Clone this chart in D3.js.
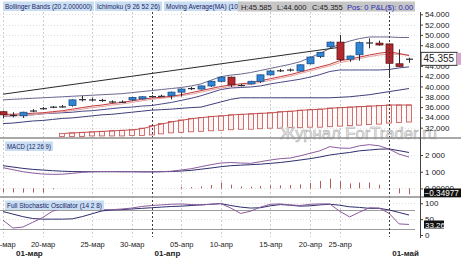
<!DOCTYPE html>
<html>
<head>
<meta charset="utf-8" />
<script src="https://cdn.jsdelivr.net/npm/d3@7/dist/d3.min.js"></script>
<style>
body { margin: 0; background: #ffffff; }
#chart { display: block; font-family: "Liberation Sans", Arial, sans-serif; }
.grid { stroke: #cdcdcd; stroke-dasharray: 2,2; }
.hgrid { stroke: #e0e0e0; stroke-dasharray: 1,2; }
.month { stroke: #3a3a3a; stroke-dasharray: 2,2; }
.sep { stroke: #8c8c8c; stroke-width: 1.5; }
.axis text { font-size: 8px; fill: #222; }
.axis line { stroke: #444; }
.axis .domain { display: none; }
.legend rect { fill: #c9def3; }
.legend text { fill: #1b2463; }
.ln { fill: none; stroke-width: 1; }
.xlab text { font-size: 7.5px; fill: #222; }
.mlab { font-size: 8px; font-weight: bold; fill: #222; }
</style>
</head>
<body>
<svg id="chart" width="461" height="258"></svg>
<script>
// candles, one per trading day
var openP  = [35.1,34.5,34.3,35.3,35.75,35.95,36.1,36.3,37.45,37.5,37.4,37.1,37.0,37.4,37.6,38.1,38.2,38.2,38.9,39.65,39.5,40.1,41.0,41.8,40.3,40.5,41.0,42.25,43.15,43.3,43.0,44.4,45.8,47.7,48.6,45.3,46.15,48.5,48.4,48.25,44.4,45.4];
var highP  = [35.3,35.0,35.1,35.6,36.0,36.2,36.4,37.5,38.2,37.8,37.6,37.3,37.3,38.0,38.1,38.3,38.4,39.0,39.6,39.9,40.2,41.1,41.9,41.9,40.5,41.1,42.3,43.2,43.4,43.5,44.3,45.8,46.7,48.7,50.0,46.0,48.7,49.35,48.9,48.3,47.2,45.585];
var lowP   = [33.8,34.0,33.9,35.0,35.5,35.8,35.9,36.1,37.1,37.1,37.0,36.8,36.8,37.2,37.5,37.9,38.0,37.5,38.05,39.3,39.4,39.9,40.8,39.9,40.0,40.4,40.7,42.1,42.8,42.9,42.9,44.3,45.5,47.5,44.8,44.8,45.0,47.4,47.9,41.8,43.8,44.6];
var closeP = [34.5,34.45,35.0,35.35,35.8,36.1,36.15,37.4,37.55,37.45,37.2,37.1,37.05,37.85,38.0,38.15,38.2,38.9,39.5,39.7,40.1,41.0,41.8,40.3,40.25,41.0,42.25,43.0,43.1,43.1,44.2,45.7,46.6,48.6,45.2,45.9,48.5,48.55,48.05,44.5,43.9,45.355];

// indicator lines on the price panel
var bbUpper = [37.4,37.5,37.6,37.7,37.8,37.9,38.0,38.1,38.2,38.3,38.4,38.5,38.6,38.8,39.0,39.2,39.4,39.6,39.8,40.1,40.5,41.2,41.9,42.2,42.4,42.7,43.1,43.5,43.9,44.3,44.8,45.6,46.4,47.4,48.2,48.8,49.3,49.6,49.6,49.6,49.5,49.5];
var bbLower = [32.8,32.9,33.1,33.3,33.4,33.6,33.8,33.9,34.1,34.3,34.5,34.6,34.8,35.0,35.2,35.4,35.5,35.6,35.75,35.9,36.0,36.5,37.0,37.5,37.8,37.8,37.8,37.8,37.8,37.8,37.8,37.8,37.8,37.8,37.9,38.0,38.2,38.4,38.7,39.0,39.3,39.6];
var ma10    = [34.6,34.6,34.7,34.8,34.9,35.1,35.3,35.6,35.9,36.2,36.4,36.7,36.9,37.2,37.5,37.75,37.9,38.1,38.4,38.8,39.2,39.6,40.0,40.3,40.5,40.7,41.1,41.5,41.9,42.3,42.8,43.3,43.8,44.3,45.0,45.3,45.7,46.1,46.45,46.7,46.4,46.0];
var tenkan  = [34.3,34.3,34.4,34.5,34.7,34.9,35.1,35.3,35.6,35.9,36.1,36.4,36.6,36.9,37.2,37.5,37.7,37.9,38.2,38.5,38.9,39.3,39.7,40.0,40.2,40.4,40.8,41.2,41.6,42.0,42.5,43.0,43.5,44.0,44.6,45.0,45.4,45.8,46.1,46.3,46.2,46.1];
var kijun   = [34.2,34.3,34.4,34.5,34.7,34.8,34.9,35.0,35.2,35.3,35.5,35.7,35.9,36.0,36.2,36.3,36.6,36.9,37.3,37.7,38.2,38.8,39.4,39.7,39.8,39.9,40.1,40.5,40.8,41.1,41.4,41.8,42.3,42.9,43.2,43.2,43.2,43.2,43.2,43.3,43.6,43.8];
var cloudTop    = [null,null,null,null,null,null,30.9,31.0,31.1,31.2,31.3,31.4,31.5,31.6,31.9,32.4,32.8,33.2,33.5,33.8,34.0,34.2,34.3,34.5,34.6,34.7,34.8,34.9,35.1,35.2,35.4,35.5,35.6,35.8,35.9,36.0,36.1,36.2,36.3,36.4,36.4,36.4];
var cloudBottom = [null,null,null,null,null,null,30.3,30.3,30.3,30.4,30.4,30.4,30.4,30.5,30.5,30.6,30.8,31.0,31.1,31.2,31.3,31.4,31.5,31.6,31.7,31.7,31.8,31.9,31.9,32.0,32.0,32.1,32.1,32.2,32.3,32.4,32.5,32.6,32.7,32.9,33.0,33.1];
var trendIdx = [0, 34];
var trendVal = [38.5, 47.6];

// MACD (12 26 9)
var macdLine   = [1.24,1.12,1.0,0.92,0.86,0.84,0.85,0.9,0.96,1.0,1.01,1.01,1.0,1.0,1.0,1.0,1.0,1.03,1.1,1.18,1.3,1.42,1.52,1.55,1.52,1.5,1.6,1.7,1.78,1.82,1.95,2.1,2.25,2.5,2.42,2.4,2.55,2.62,2.55,2.35,2.05,1.88];
var signalLine = [1.36,1.28,1.2,1.14,1.1,1.06,1.03,1.01,1.0,1.0,1.0,1.0,1.0,1.0,0.99,0.99,1.0,1.01,1.04,1.08,1.15,1.22,1.3,1.36,1.39,1.42,1.45,1.5,1.55,1.62,1.7,1.78,1.88,2.0,2.08,2.15,2.25,2.3,2.35,2.36,2.26,2.15];
var macdHist   = [-0.22,-0.24,-0.25,-0.25,-0.24,-0.06,0,0,0,0,0,0,0,0,0,0,0,0,0.1,0.08,0.12,0.2,0.35,0.22,0.12,0.1,0.14,0.17,0.18,0.2,0.24,0.33,0.45,0.58,0.42,0.3,0.35,0.35,0.22,0,-0.3,-0.34977];

// Full Stochastic (14 2 8)
var stochK = [47,22,25,40,55,75,84,86,86,84,80,80,82,85,90,93,95,97,98,96,95,97,99,85,68,75,88,97,98,95,93,97,98,98,75,57,72,86,85,68,35,33.26];
var stochD = [74,66,58,52,50,50,50,51,58,67,76,79,80,82,84,86,88,90,91,93,95,97,99,93,88,85,86,92,96,94,91,92,95,97,94,89,87,84,84,79,71,63];

// axes
var priceTicks = [32,34,36,38,40,42,44,46,48,50,52,54];
var macdTicks = [0, 1, 2];
var macdTickLabels = ["0.00000", "1 000", "2 000"];
var stochTicks = [0, 50, 100];
var stochLevels = [20, 80];
var dateIdx = [0, 4, 9, 13, 18, 22, 27, 31, 34];
var dateLabels = ["15-мар","20-мар","25-мар","30-мар","05-апр","10-апр","15-апр","20-апр","25-апр"];
var monthIdx = [15, 39];
var monthLabels = ["01-апр", "01-май"];
var legendMain = ["Bollinger Bands (20 2.000000)", "Ichimoku (9 26 52 26)", "Moving Average(MA) (10)"];
var quoteInfo = ["H:45.585", "L:44.600", "C:45.355"];

var w = 461, h = 258, plotRight = 415, axisX = 420;

var x = d3.scaleLinear().domain([0, 41]).range([3, 409]);
var yMain = d3.scaleLinear().domain([32, 54]).range([127.7, 14.3]);
var yMacd = d3.scaleLinear().domain([0, 2]).range([188.4, 155]);
var yStoch = d3.scaleLinear().domain([0, 100]).range([235, 203.3]);
var px = function(i) { return Math.round(x(i)) + 0.5; };

var svg = d3.select("#chart");
svg.append("rect").attr("width", w).attr("height", h).attr("fill", "#fff");

var defs = svg.append("defs");
function addClip(id, y0, y1) {
  defs.append("clipPath").attr("id", id).append("rect")
    .attr("x", 0).attr("y", y0).attr("width", plotRight).attr("height", y1 - y0);
}
addClip("clipMain", 12, 137.3);
addClip("clipMacd", 138.7, 196.3);
addClip("clipStoch", 197.7, 238);

// grid
var grid = svg.append("g");
grid.selectAll("line.grid").data(dateIdx).enter().append("line")
  .attr("class", "grid")
  .attr("x1", px).attr("x2", px).attr("y1", 12).attr("y2", 237);

function hgrid(ticks, y) {
  grid.selectAll(null).data(ticks).enter().append("line")
    .attr("class", "hgrid")
    .attr("x1", 0).attr("x2", plotRight)
    .attr("y1", function(d) { return Math.round(y(d)) + 0.5; })
    .attr("y2", function(d) { return Math.round(y(d)) + 0.5; });
}
hgrid(priceTicks, yMain);
hgrid(macdTicks, yMacd);
hgrid([50, 100], yStoch);

grid.selectAll("line.lvl").data(stochLevels).enter().append("line")
  .attr("class", "lvl")
  .attr("x1", 0).attr("x2", plotRight)
  .attr("y1", function(d) { return Math.round(yStoch(d)) + 0.5; })
  .attr("y2", function(d) { return Math.round(yStoch(d)) + 0.5; })
  .attr("stroke", "#9c9c9c");

// price panel
var main = svg.append("g").attr("clip-path", "url(#clipMain)");

var cloudIdx = d3.range(cloudTop.length).filter(function(i) { return cloudTop[i] != null; });
main.selectAll("rect.cloud").data(cloudIdx).enter().append("rect")
  .attr("x", function(i) { return Math.round(x(i)) - 2.5; })
  .attr("y", function(i) { return yMain(cloudTop[i]); })
  .attr("width", 5)
  .attr("height", function(i) { return yMain(cloudBottom[i]) - yMain(cloudTop[i]); })
  .attr("fill", "#fcf2f2").attr("stroke", "#c45050").attr("stroke-width", 0.8);

function priceLine(vals, color, width) {
  main.append("path").datum(vals).attr("class", "ln")
    .attr("stroke", color).attr("stroke-width", width || 1)
    .attr("d", d3.line().defined(function(d) { return d != null; })
      .x(function(d, i) { return x(i); }).y(function(d) { return yMain(d); }));
}
main.append("path").datum(cloudTop).attr("class", "ln").attr("stroke", "#c45050")
  .attr("d", d3.line().defined(function(d) { return d != null; })
    .x(function(d, i) { return x(i) + 2.5; }).y(function(d) { return yMain(d); }));

priceLine(bbLower, "#3e3e78");
priceLine(kijun, "#4a4a88");
priceLine(tenkan, "#e4a0a0", 1.2);
priceLine(ma10, "#c43a3a");
priceLine(bbUpper, "#6a6a90");

main.append("path").datum(d3.zip(trendIdx, trendVal)).attr("class", "ln")
  .attr("stroke", "#2a2a2a")
  .attr("d", d3.line().x(function(d) { return x(d[0]); }).y(function(d) { return yMain(d[1]); }));

var candle = main.selectAll("g.candle").data(d3.range(openP.length)).enter().append("g");
candle.append("line")
  .attr("x1", px).attr("x2", px)
  .attr("y1", function(i) { return yMain(highP[i]); })
  .attr("y2", function(i) { return yMain(lowP[i]); })
  .attr("stroke", "#2b2b2b");
candle.append("rect")
  .attr("x", function(i) { return Math.round(x(i)) - 3; })
  .attr("y", function(i) { return yMain(Math.max(openP[i], closeP[i])); })
  .attr("width", 7)
  .attr("height", function(i) { return Math.max(1.2, Math.abs(yMain(openP[i]) - yMain(closeP[i]))); })
  .attr("fill", function(i) {
    if (Math.abs(yMain(openP[i]) - yMain(closeP[i])) < 1.5) return "#2e2e3a";
    return closeP[i] > openP[i] ? "#2f86d6" : "#b2282e";
  })
  .attr("stroke", function(i) {
    if (Math.abs(yMain(openP[i]) - yMain(closeP[i])) < 1.5) return "none";
    return closeP[i] > openP[i] ? "#1c4c84" : "#5c1417";
  })
  .attr("stroke-width", 0.8);

// MACD panel
var macdG = svg.append("g").attr("clip-path", "url(#clipMacd)");
macdG.selectAll("line.hist").data(d3.range(macdHist.length).filter(function(i) { return macdHist[i] != 0; }))
  .enter().append("line")
  .attr("x1", px).attr("x2", px)
  .attr("y1", yMacd(0))
  .attr("y2", function(i) { return yMacd(macdHist[i]); })
  .attr("stroke", "#b05a5a");
function subLine(g, vals, y, color) {
  g.append("path").datum(vals).attr("class", "ln").attr("stroke", color)
    .attr("d", d3.line().x(function(d, i) { return x(i); }).y(function(d) { return y(d); }));
}
subLine(macdG, signalLine, yMacd, "#2e2e6e");
subLine(macdG, macdLine, yMacd, "#8c5c9c");

// stochastic panel
var stochG = svg.append("g").attr("clip-path", "url(#clipStoch)");
subLine(stochG, stochD, yStoch, "#2e2e6e");
subLine(stochG, stochK, yStoch, "#8c5c9c");

// month separators
svg.selectAll("line.month").data(monthIdx).enter().append("line")
  .attr("class", "month")
  .attr("x1", px).attr("x2", px).attr("y1", 12).attr("y2", 237);

// watermark
svg.append("text").attr("x", 280).attr("y", 139)
  .attr("font-size", "17px").attr("textLength", 157).attr("lengthAdjust", "spacingAndGlyphs")
  .attr("fill", "#eeeeee").attr("stroke", "#adadad").attr("stroke-width", 0.6)
  .text("Журнал ForTrader.ru");

// panel separators
svg.selectAll("line.sep").data([138, 197]).enter().append("line")
  .attr("class", "sep").attr("x1", 0).attr("x2", w).attr("y1", function(d) { return d; }).attr("y2", function(d) { return d; });

// legends
function legendBox(g, label, lx, ly, fs, tw) {
  g.append("rect").attr("x", lx).attr("y", ly).attr("width", tw + 4).attr("height", 9.5);
  g.append("text").attr("x", lx + 2).attr("y", ly + 7.2).attr("font-size", fs + "px")
    .attr("textLength", tw).attr("lengthAdjust", "spacingAndGlyphs").text(label);
}
var leg = svg.append("g").attr("class", "legend");
legendBox(leg.append("g"), legendMain[0], 3, 1.5, 7, 87);
legendBox(leg.append("g"), legendMain[1], 95, 1.5, 7, 63);
legendBox(leg.append("g"), legendMain[2], 164, 1.5, 7, 74);
legendBox(leg.append("g"), "MACD (12 26 9)", 5, 141.5, 7, 44);
legendBox(leg.append("g"), "Full Stochastic Oscillator (14 2 8)", 5, 200.5, 7, 95);

var info = svg.append("g");
info.append("rect").attr("x", 238).attr("y", 1.5).attr("width", plotRight - 238).attr("height", 10)
  .attr("fill", "#c6c6c6");
var infoX = [241, 277, 312];
quoteInfo.forEach(function(s, i) {
  info.append("text").attr("x", infoX[i]).attr("y", 9.5).attr("font-size", "7.6px").attr("fill", "#1a1a1a").text(s);
});
info.append("text").attr("x", 347).attr("y", 9.5).attr("font-size", "7.6px").attr("fill", "#2a2ab4")
  .text("Pos: 0 P&L($): 0.00");

// right axes
svg.append("line").attr("x1", axisX + 0.5).attr("x2", axisX + 0.5).attr("y1", 12).attr("y2", 238)
  .attr("stroke", "#444");
svg.append("g").attr("class", "axis").attr("transform", "translate(" + axisX + ",0)")
  .call(d3.axisRight(yMain).tickValues(priceTicks).tickSize(3).tickPadding(2).tickFormat(d3.format(".3f")));
svg.append("g").attr("class", "axis").attr("transform", "translate(" + axisX + ",0)")
  .call(d3.axisRight(yMacd).tickValues(macdTicks).tickSize(3).tickPadding(2)
    .tickFormat(function(d, i) { return macdTickLabels[i]; }));
svg.append("g").attr("class", "axis").attr("transform", "translate(" + axisX + ",0)")
  .call(d3.axisRight(yStoch).tickValues(stochTicks).tickSize(3).tickPadding(2));

// current value tags
var last = closeP.length - 1;
svg.append("rect").attr("x", 421).attr("y", yMain(closeP[last]) - 6.5).attr("width", 36).attr("height", 13)
  .attr("fill", "#fff").attr("stroke", "#333");
svg.append("rect").attr("x", 457).attr("y", yMain(closeP[last]) - 6).attr("width", 4).attr("height", 12)
  .attr("fill", "#d8a6cf");
svg.append("text").attr("x", 423.5).attr("y", yMain(closeP[last]) + 3.6).attr("font-size", "10px")
  .attr("fill", "#222").text(d3.format(".3f")(closeP[last]));

svg.append("rect").attr("x", 424).attr("y", 188.5).attr("width", 37).attr("height", 8.5).attr("fill", "#111");
svg.append("text").attr("x", 424.5).attr("y", 196).attr("font-size", "8.2px").attr("fill", "#fff")
  .text(d3.format(".5f")(macdHist[last]));
svg.append("rect").attr("x", 424).attr("y", 220.5).attr("width", 20).attr("height", 8).attr("fill", "#111");
svg.append("text").attr("x", 425).attr("y", 227.6).attr("font-size", "8px").attr("fill", "#fff")
  .text(d3.format(".2f")(stochK[last]));

// time axis
svg.append("g").attr("class", "xlab").attr("transform", "translate(0,240)")
  .call(d3.axisBottom(x).tickValues(dateIdx).tickSize(0).tickPadding(2)
    .tickFormat(function(d, i) { return dateLabels[i]; }))
  .call(function(g) { g.select(".domain").remove(); });
svg.append("text").attr("class", "mlab").attr("x", 16).attr("y", 256).text("01-мар");
svg.selectAll("text.mlab2").data(monthIdx).enter().append("text")
  .attr("class", "mlab").attr("x", function(i) { return x(i) + 3; }).attr("y", 256)
  .text(function(d, i) { return monthLabels[i]; });
</script>
</body>
</html>
